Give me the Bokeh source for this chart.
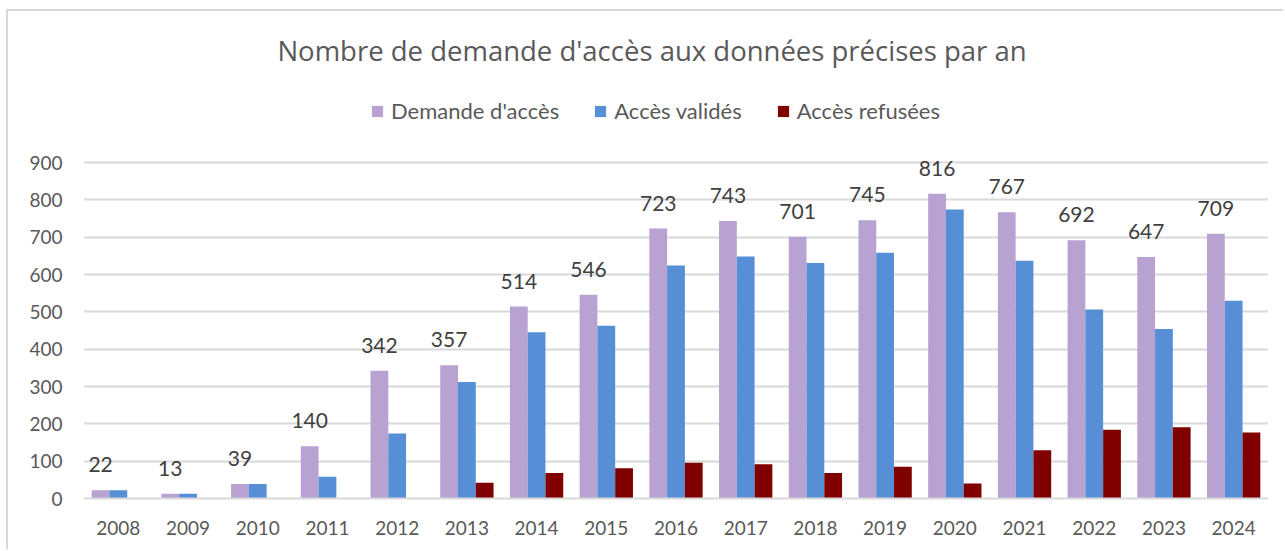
from bokeh.plotting import figure
from bokeh.models import ColumnDataSource, Label, Legend, LegendItem, FactorRange, Range1d, FixedTicker
from bokeh.transform import dodge
from bokeh.core.properties import value
from bokeh.embed import file_html
from bokeh.resources import INLINE

years = ["2008", "2009", "2010", "2011", "2012", "2013", "2014", "2015", "2016",
         "2017", "2018", "2019", "2020", "2021", "2022", "2023", "2024"]
demande = [22, 13, 39, 140, 342, 357, 514, 546, 723, 743, 701, 745, 816, 767, 692, 647, 709]
valides = [22, 13, 39, 58, 174, 312, 445, 463, 624, 648, 631, 658, 774, 637, 506, 454, 530]
refusees = [0, 0, 0, 0, 0, 42, 68, 81, 96, 92, 68, 85, 40, 129, 184, 191, 177]
y_ticks = [0, 100, 200, 300, 400, 500, 600, 700, 800, 900]
series_names = ["Demande d'accès", "Accès validés", "Accès refusées"]
colors = ["#B7A2D1", "#568FD6", "#800000"]
title_text = "Nombre de demande d'accès aux données précises par an"

FONT = "Lato"
TXT = "#595959"

# layout: the frame spans the full height so the title/legend live inside it
W, H = 1277, 540
FRAME_PX = 487          # frame height in px (top of figure -> zero line)
GRID_PX = 336           # px between 0 and 900 gridlines
y_end = y_ticks[-1] * FRAME_PX / GRID_PX

src = ColumnDataSource(dict(year=years, demande=demande, valides=valides, refusees=refusees,
                            lab=[str(v) for v in demande]))

p = figure(x_range=FactorRange(*years), y_range=Range1d(0, y_end),
           width=W, height=H, output_backend="svg", toolbar_location=None,
           min_border_left=75, min_border_right=17, min_border_top=0,
           min_border_bottom=H - FRAME_PX)

bw = 0.255
r1 = p.vbar(x=dodge("year", -bw, range=p.x_range), top="demande", width=bw, source=src,
            fill_color=colors[0], line_color=None)
r2 = p.vbar(x=dodge("year", 0, range=p.x_range), top="valides", width=bw, source=src,
            fill_color=colors[1], line_color=None)
r3 = p.vbar(x=dodge("year", bw, range=p.x_range), top="refusees", width=bw, source=src,
            fill_color=colors[2], line_color=None)

p.text(x=dodge("year", -bw, range=p.x_range), y="demande", text="lab", source=src,
       text_font=value(FONT), text_font_size="21px", text_color="#404040",
       text_align="center", text_baseline="bottom", y_offset=-18)

# axes
p.yaxis.ticker = FixedTicker(ticks=y_ticks)
p.yaxis.axis_line_color = None
p.yaxis.major_tick_line_color = None
p.yaxis.minor_tick_line_color = None
p.yaxis.major_label_text_font = FONT
p.yaxis.major_label_text_font_size = "19px"
p.yaxis.major_label_text_color = TXT
p.yaxis.major_label_standoff = 15

p.xaxis.axis_line_color = "#D9D9D9"
p.xaxis.axis_line_width = 2
p.xaxis.major_tick_line_color = None
p.xaxis.minor_tick_line_color = None
p.xaxis.major_label_text_font = FONT
p.xaxis.major_label_text_font_size = "19px"
p.xaxis.major_label_text_color = TXT
p.xaxis.major_label_standoff = 16

p.xgrid.grid_line_color = None
p.ygrid.grid_line_color = "#D9D9D9"
p.ygrid.grid_line_width = 2
p.outline_line_color = None
p.x_range.range_padding = 0
p.x_range.group_padding = 0

title = Label(x=568.5, y=448.5, x_units="screen", y_units="screen", text=title_text,
              text_font="Open Sans", text_font_size="27.5px", text_color=TXT,
              text_align="center", text_baseline="alphabetic")
p.add_layout(title)

legend = Legend(items=[LegendItem(label=series_names[0], renderers=[r1]),
                       LegendItem(label=series_names[1], renderers=[r2]),
                       LegendItem(label=series_names[2], renderers=[r3])],
                orientation="horizontal", location=(287, 374),
                label_text_font=FONT, label_text_font_size="22px", label_text_color=TXT,
                glyph_width=14, glyph_height=14, label_standoff=7, spacing=34,
                padding=0, margin=0, border_line_color=None, background_fill_alpha=0)
p.add_layout(legend, "center")

p.styles = {"margin-left": "6px", "margin-top": "9px",
            "border-left": "2px solid #D9D9D9", "border-top": "2px solid #D9D9D9"}

open("out.html", "w").write(file_html(p, INLINE))
